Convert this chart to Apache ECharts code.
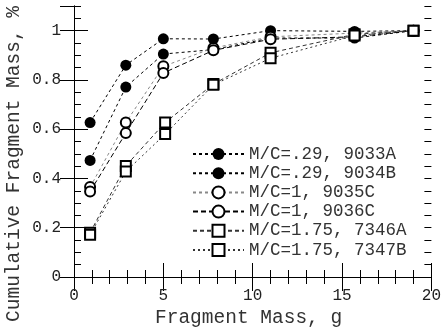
<!DOCTYPE html>
<html><head><meta charset="utf-8">
<script src="https://cdn.jsdelivr.net/npm/echarts@6/dist/echarts.min.js"></script>
<style>html,body{margin:0;padding:0;background:#fff}#c{width:444px;height:331px}</style>
</head><body><div id="c"></div>
<script>
const seriesNames = ['M/C=.29, 9033A','M/C=.29, 9034B','M/C=1, 9035C','M/C=1, 9036C','M/C=1.75, 7346A','M/C=1.75, 7347B'];
const s9033A = [[0.9,0.627],[2.9,0.86],[5.0,0.967],[7.8,0.966],[11,1.0],[15.7,0.997],[19,1.0]];
const s9034B = [[0.9,0.473],[2.9,0.771],[5.0,0.905],[7.8,0.923],[11,0.97],[15.7,0.97],[19,1.0]];
const s9035C = [[0.9,0.365],[2.9,0.627],[5.0,0.855],[7.8,0.93],[11,0.975],[15.7,0.99],[19,1.0]];
const s9036C = [[0.9,0.347],[2.9,0.584],[5.0,0.828],[7.8,0.92],[11,0.965],[15.7,0.975],[19,1.0]];
const s7346A = [[0.9,0.18],[2.9,0.451],[5.1,0.627],[7.8,0.783],[11,0.91],[15.7,0.985],[19,1.0]];
const s7347B = [[0.9,0.172],[2.9,0.428],[5.1,0.58],[7.8,0.78],[11,0.888],[15.7,0.98],[19,1.0]];
const xTitle = 'Fragment Mass, g';
const yTitle = 'Cumulative Fragment Mass, %';

const FONT = 'Liberation Mono';
const dataSets = [s9033A, s9034B, s9035C, s9036C, s7346A, s7347B];
const symbols = ['circle','circle','emptyCircle','emptyCircle','emptyRect','emptyRect'];
const lineColors = ['#000','#000','#888','#000','#333','#333'];
const dashes = [[3,3],[3,3],[3,3],[5,3],[4,3],[2,3]];

const chart = echarts.init(document.getElementById('c'), null, {renderer:'canvas'});
const axisLine = {show:true, lineStyle:{color:'#000', width:1}};
const xBase = {type:'value', min:0, max:20, interval:5, splitLine:{show:false},
  axisLine, axisTick:{show:true, inside:true, length:14, lineStyle:{color:'#000'}},
  minorTick:{show:true, splitNumber:5, length:7, lineStyle:{color:'#000'}}};
const yMajor = {type:'value', min:0, max:1.1, interval:0.2, splitLine:{show:false},
  axisLine, axisTick:{show:true, inside:true, length:14, lineStyle:{color:'#000'}}};
const yMinor = {type:'value', min:0, max:1.1, interval:0.05, splitLine:{show:false},
  axisLine:{show:false}, axisLabel:{show:false},
  axisTick:{show:true, inside:true, length:7, lineStyle:{color:'#000'}}};

chart.setOption({
  animation:false,
  backgroundColor:'#fff',
  grid:{left:74, right:11, top:6, bottom:54, containLabel:false},
  xAxis:[
    Object.assign({}, xBase, {position:'bottom',
      axisLabel:{show:true, margin:11, color:'#222', fontFamily:FONT, fontSize:16}}),
    Object.assign({}, xBase, {position:'top', axisLabel:{show:false}})
  ],
  yAxis:[
    Object.assign({}, yMajor, {position:'left',
      axisLabel:{show:true, margin:13, color:'#222', fontFamily:FONT, fontSize:16, showMaxLabel:false}}),
    Object.assign({}, yMajor, {position:'right', axisLabel:{show:false}}),
    Object.assign({}, yMinor, {position:'left'}),
    Object.assign({}, yMinor, {position:'right'})
  ],
  legend:{
    orient:'vertical', left:192, top:145, itemWidth:51, itemHeight:15, itemGap:1.2,
    padding:0,
    textStyle:{fontFamily:FONT, fontSize:17.5, lineHeight:15, color:'#333'},
    data:seriesNames
  },
  graphic:[
    {type:'text', left:4, top:6, rotation:Math.PI/2, originX:0, originY:0,
      style:{text:yTitle, font:'19.5px "' + FONT + '"', fill:'#333', x:0, y:0}},
    {type:'text', left:155, top:308, style:{text:xTitle, font:'19.5px "' + FONT + '"', fill:'#333'}}
  ],
  series: dataSets.map((d,i)=>({
    name:seriesNames[i], type:'line', data:d, symbol:symbols[i], symbolSize:i<2 ? 11 : 10,
    itemStyle:{color:'#000', borderWidth:i<2 ? 0 : 1},
    lineStyle:{color:lineColors[i], width:1, type:dashes[i]},
    z: 2
  }))
});
</script></body></html>
